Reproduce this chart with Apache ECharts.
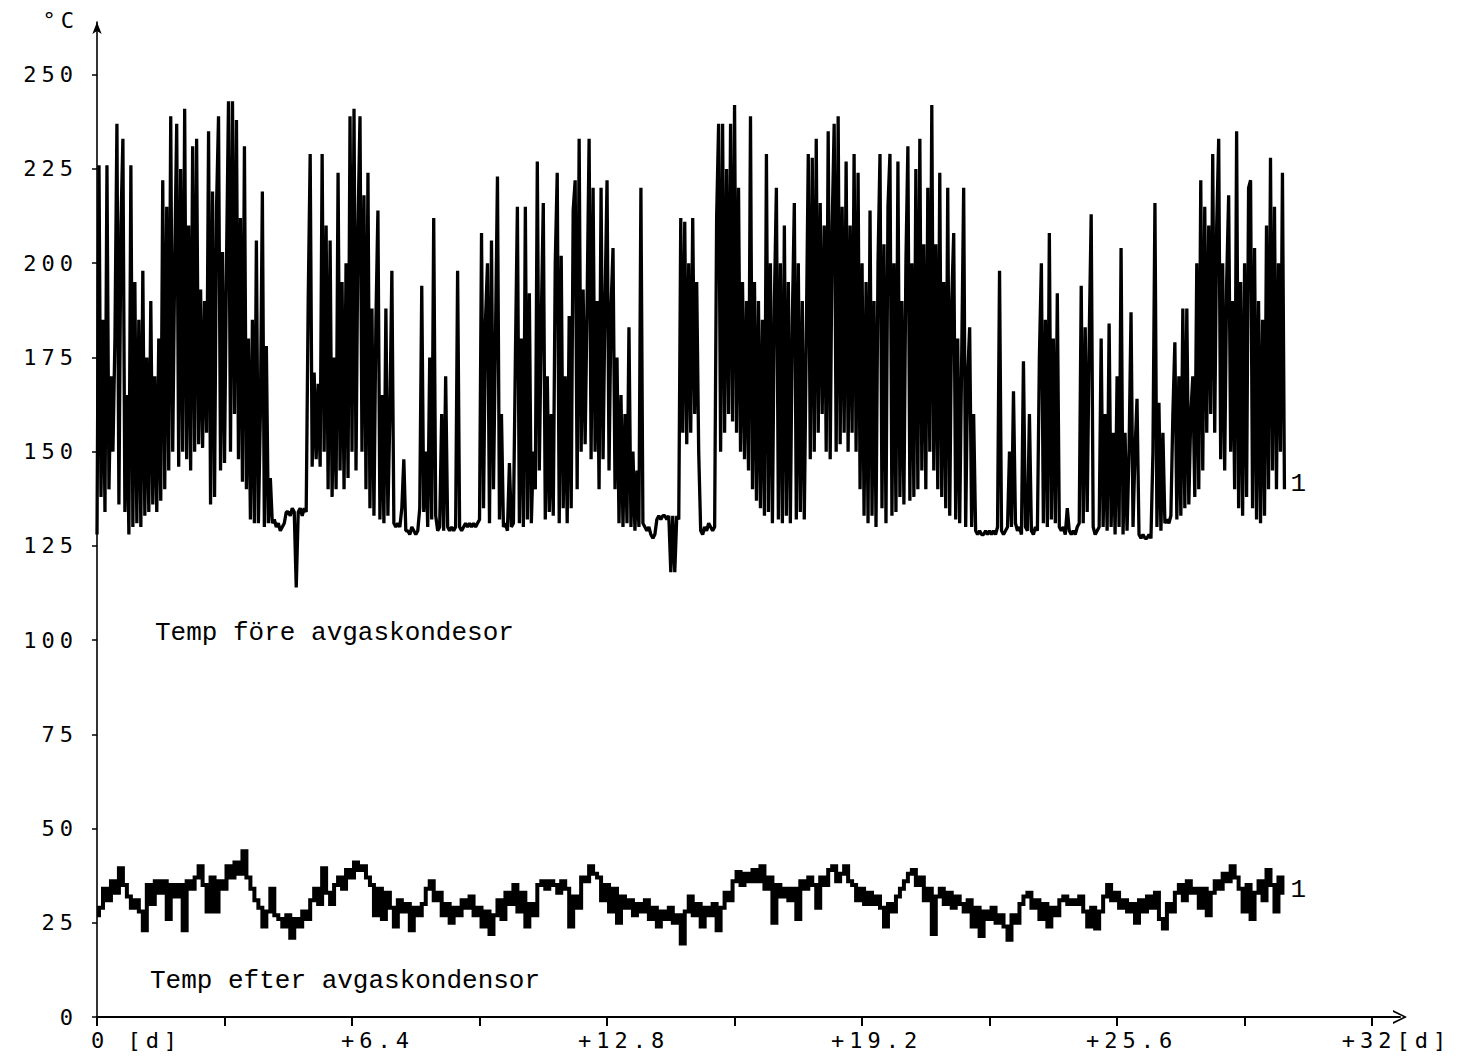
<!DOCTYPE html>
<html>
<head>
<meta charset="utf-8">
<script src="https://cdn.jsdelivr.net/npm/echarts@6/dist/echarts.min.js"></script>
<style>
html,body{margin:0;padding:0;background:#fff;}
#chart{width:1461px;height:1056px;}
#chart svg text{letter-spacing:5px;}
#chart svg text[style*="Liberation"]{letter-spacing:0;}
</style>
</head>
<body>
<div id="chart"></div>
<script>
// time step of the samples, in days
const FORE_STEP = 0.05;
const EFTER_STEP = 0.1;

// Temp före avgaskondesor (°C), one value per 0.05 d
const foreTemp = [
128,226,138,185,134,226,140,170,150,180,237,136,210,233,134,165,128,226,130,195,
131,185,130,198,133,175,134,190,136,170,134,180,137,222,140,215,145,239,150,200,
237,146,225,150,241,148,210,145,231,150,233,152,193,151,190,155,235,136,219,138,
215,239,145,203,147,200,243,150,243,160,238,148,212,142,231,140,180,132,185,131,
206,131,160,219,130,178,131,143,131,132,130,131,129,130,131,134,134,133,135,134,
114,134,135,133,135,134,190,229,146,171,148,168,146,229,150,210,140,206,138,175,
140,224,145,195,140,200,143,239,150,241,145,210,239,150,218,140,224,135,188,133,
185,214,132,165,131,188,133,160,198,131,130,131,130,135,148,129,129,128,130,129,
128,129,135,194,134,150,130,175,132,212,133,129,130,160,129,170,130,129,130,129,
130,198,130,129,130,131,130,131,130,131,130,131,132,208,135,185,200,131,206,140,
180,223,132,160,130,131,129,147,130,131,175,215,131,180,130,215,132,192,131,150,
140,227,145,185,216,132,170,134,160,133,200,224,131,202,135,170,131,186,135,214,
222,140,233,150,193,152,190,233,148,220,150,190,140,220,148,190,222,145,188,204,
140,175,131,165,130,160,131,183,130,150,129,145,130,220,131,130,129,130,128,127,
128,132,133,132,133,133,132,133,118,133,118,133,132,212,155,211,152,200,155,212,
160,195,150,129,128,130,129,131,130,129,130,212,237,150,237,155,225,160,237,158,
242,155,220,150,195,148,190,145,239,140,195,137,190,135,185,133,229,134,200,131,
190,220,132,200,131,210,133,195,131,185,216,132,200,134,190,132,180,229,148,228,
150,233,155,216,160,210,150,235,148,210,237,150,239,152,215,155,227,150,210,155,
229,150,224,140,200,133,195,131,214,133,190,130,200,229,135,205,131,215,229,133,
200,134,227,138,190,136,200,231,137,200,138,225,140,233,145,205,140,220,150,242,
145,205,140,224,138,195,135,220,133,190,208,132,180,131,175,220,130,170,183,130,
160,129,128,129,128,128,129,128,129,128,129,128,130,198,129,128,129,130,150,130,
166,131,129,130,128,174,130,129,160,129,128,130,129,175,200,131,185,130,208,132,
180,131,192,130,129,130,128,135,129,128,129,128,130,131,194,131,183,134,180,213,
130,128,129,130,180,130,160,129,184,130,155,128,170,130,204,128,155,129,150,187,
130,150,164,128,127,128,127,127,128,127,150,216,130,163,129,155,131,132,131,133,
160,179,132,170,133,188,135,188,136,160,170,138,200,140,222,145,215,155,210,160,
229,155,210,233,148,200,145,195,218,150,190,140,235,135,195,133,200,138,220,222,
135,204,132,190,131,185,133,210,140,228,145,215,140,200,150,224,140
];

// Temp efter avgaskondensor (°C), one value per 0.1 d
const efterTemp = [
27,29,34,31,36,33,39.5,35,32,29,31,28,23,35,30,36,33,36,26,35,
32,35,23,36,34,37,40,35,28,37,28,36,34,40,37,41,38,44,37,34,
31,29,24,28,34,27,26,24,27,21,26,24,28,26,31,34,30,39.5,33,30,
35,37,34,39,37,41,39,40,37,35,27,34,26,33,29,24,31,28,30,23,
29,27,30,34,36,31,33,27,30,25,29,27,31,29,32,27,29,24,28,22,
27,31,26,33,30,35,28,33,24,30,27,35,36,34,36,35,33,36,34,24,
32,29,37,36,40,38,37,31,35,28,34,25,32,29,31,27,30,28,31,26,
29,24,28,26,29,25,27,19.5,28,32,27,30,24,29,27,30,23,29,33,31,
36,38.5,35,38,36,39,36,40,34,37,25,35,32,34,31,34,26,36,34,37,
35,29,37,35,39,40,36,38,40,36,35,31,34,30,33,30,32,29,24,30,
28,32,34,36,38,39,35,37,31,34,22,32,34,30,33,29,32,30,28,31,
24,29,21.5,28,26,29,25,27,24,20.5,27,25,30,32,33,29,31,26,30,24,
29,27,31,32,30,31,30,32,28,24,29,23.5,28,32,35,31,33,29,31,28,
30,25,31,28,32,29,33,26,23.5,30,28,33,35,31,36,33,34,29,34,27,
33,36,34,38,36,40,37,34,28,35,26,33,36,31,39,35,28,37,33
];

const yTickValues = [0, 25, 50, 75, 100, 125, 150, 175, 200, 225, 250];
const xTickValues = [0, 3.2, 6.4, 9.6, 12.8, 16, 19.2, 22.4, 25.6, 28.8, 32];
const xLabelValues = [0, 6.4, 12.8, 19.2, 25.6, 32];
const xLabelTexts = ['0 [d]', '+6.4', '+12.8', '+19.2', '+25.6', '+32[d]'];
const seriesTitles = ['Temp före avgaskondesor', 'Temp efter avgaskondensor'];
const yUnit = '°C';

const AXIS_FONT = 'DejaVu Sans Mono';
const NOTE_FONT = 'Liberation Mono';
const labelShift = [79, 51, 33, 29, 29, 49];

const rich = {};
labelShift.forEach((p, i) => {
  rich['s' + i] = { padding: [0, 0, 0, p], fontFamily: AXIS_FONT, fontSize: 22, color: '#000' };
});

const chart = echarts.init(document.getElementById('chart'), null, { renderer: 'svg' });

chart.setOption({
  animation: false,
  backgroundColor: '#fff',
  grid: { left: 97, right: 61, top: 22, bottom: 39, containLabel: false },
  xAxis: {
    type: 'value', min: 0, max: 32.7,
    axisLine: {
      show: true,
      lineStyle: { color: '#000', width: 2 },
      symbol: ['none', 'path://M0,20 L10,0 L20,20 L17,20 L10,5 L3,20 Z'],
      symbolSize: [14, 18]
    },
    axisTick: { show: true, inside: false, length: 9, lineStyle: { color: '#000', width: 2 }, customValues: xTickValues },
    axisLabel: {
      show: true, margin: 12, color: '#000', fontFamily: AXIS_FONT, fontSize: 22,
      customValues: xLabelValues,
      formatter: function (v) {
        let k = 0;
        xLabelValues.forEach((x, i) => { if (Math.abs(x - v) < 1e-6) k = i; });
        return '{s' + k + '|' + xLabelTexts[k] + '}';
      },
      rich: rich
    },
    splitLine: { show: false }
  },
  yAxis: {
    type: 'value', min: 0, max: 264,
    name: yUnit, nameLocation: 'end', nameGap: 2,
    nameTextStyle: { color: '#000', fontFamily: AXIS_FONT, fontSize: 22, align: 'right', verticalAlign: 'middle', padding: [0, 18, 0, 0] },
    axisLine: {
      show: true,
      lineStyle: { color: '#000', width: 1.6 },
      symbol: ['none', 'arrow'],
      symbolSize: [7, 12]
    },
    axisTick: { show: true, inside: false, length: 5, lineStyle: { color: '#000', width: 1.5 }, customValues: yTickValues },
    axisLabel: { show: true, margin: 19, color: '#000', fontFamily: AXIS_FONT, fontSize: 22, customValues: yTickValues },
    splitLine: { show: false }
  },
  graphic: [
    { type: 'text', left: 155, top: 620, style: { text: seriesTitles[0], fill: '#000', font: '26px "Liberation Mono"' } },
    { type: 'text', left: 150, top: 968, style: { text: seriesTitles[1], fill: '#000', font: '26px "Liberation Mono"' } }
  ],
  series: [
    {
      name: seriesTitles[0], type: 'line', showSymbol: false, symbol: 'none', sampling: null,
      data: foreTemp.map((v, i) => [i * FORE_STEP, v]),
      lineStyle: { color: '#000', width: 3.3, join: 'bevel' },
      endLabel: { show: true, formatter: '1', color: '#000', fontFamily: NOTE_FONT, fontSize: 26, distance: 6, offset: [0, -5] }
    },
    {
      name: seriesTitles[1], type: 'line', showSymbol: false, symbol: 'none', sampling: null,
      step: 'middle',
      data: efterTemp.map((v, i) => [i * EFTER_STEP, v]),
      lineStyle: { color: '#000', width: 4, join: 'miter' },
      endLabel: { show: true, formatter: '1', color: '#000', fontFamily: NOTE_FONT, fontSize: 26, distance: 6, offset: [0, -3] }
    }
  ]
});
</script>
</body>
</html>
